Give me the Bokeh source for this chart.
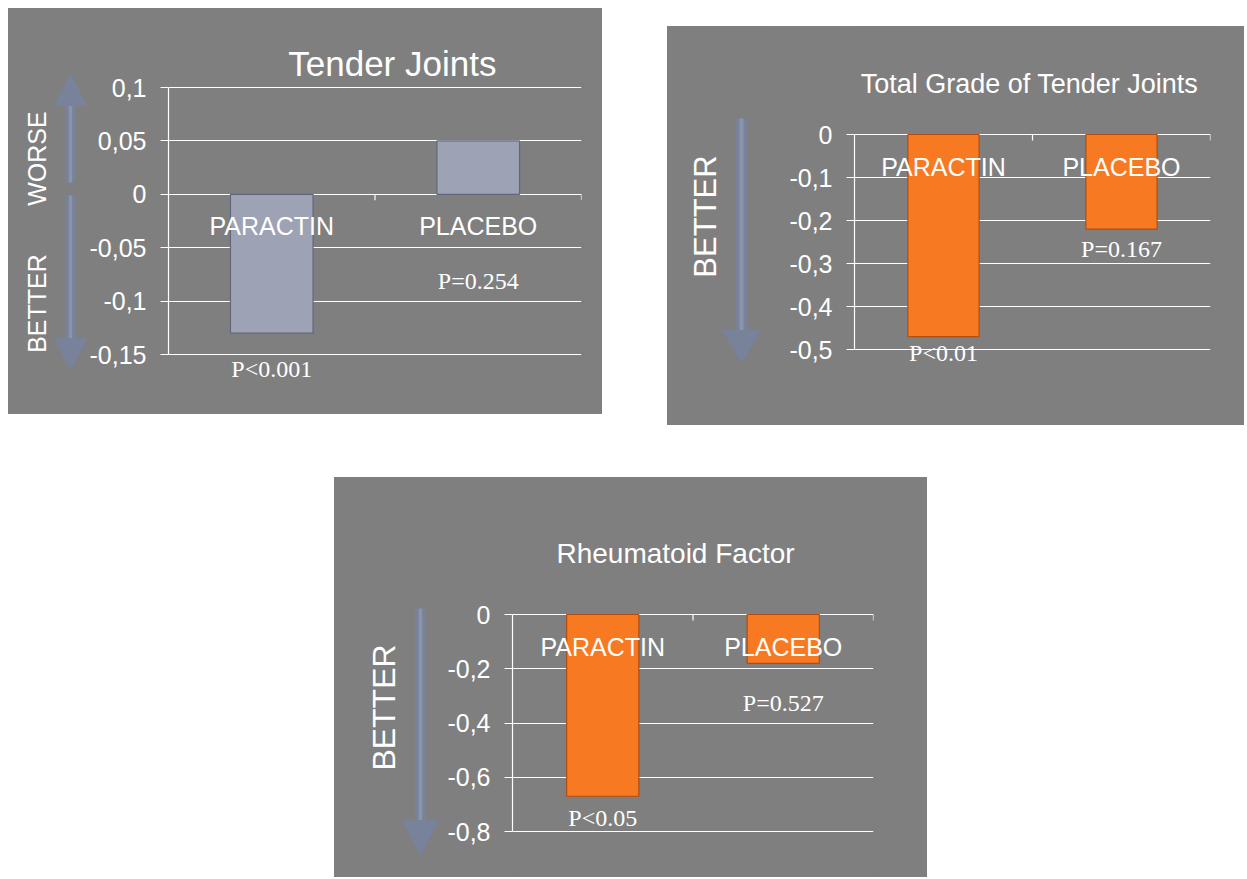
import math
from bokeh.plotting import figure
from bokeh.models import Range1d, FixedTicker, ColumnDataSource, Spacer
from bokeh.core.properties import value
from bokeh.layouts import row, column
from bokeh.embed import file_html
from bokeh.resources import INLINE

# ---------------- data ----------------
CATEGORIES = ["PARACTIN", "PLACEBO"]

TENDER_TITLE = "Tender Joints"
TENDER_VALUES = [-0.13, 0.05]
TENDER_P = ["P<0.001", "P=0.254"]
TENDER_TICKS = [0.1, 0.05, 0, -0.05, -0.1, -0.15]
TENDER_TICK_LABELS = ["0,1", "0,05", "0", "-0,05", "-0,1", "-0,15"]

GRADE_TITLE = "Total Grade of Tender Joints"
GRADE_VALUES = [-0.47, -0.22]
GRADE_P = ["P<0.01", "P=0.167"]
GRADE_TICKS = [0, -0.1, -0.2, -0.3, -0.4, -0.5]
GRADE_TICK_LABELS = ["0", "-0,1", "-0,2", "-0,3", "-0,4", "-0,5"]

RF_TITLE = "Rheumatoid Factor"
RF_VALUES = [-0.67, -0.18]
RF_P = ["P<0.05", "P=0.527"]
RF_TICKS = [0, -0.2, -0.4, -0.6, -0.8]
RF_TICK_LABELS = ["0", "-0,2", "-0,4", "-0,6", "-0,8"]

WORSE = "WORSE"
BETTER = "BETTER"

# ---------------- style ----------------
BG = "#7f7f7f"
WHITE = "#ffffff"
ARROW_COLOR = "#78829a"
ARROW_HI = "#8b94ab"
SANS = "Liberation Sans"
SERIF = "Liberation Serif"
PANEL_STYLE = {"outline": "1px solid #8e98ac", "outline-offset": "-1px",
               "background-color": BG}


def base_fig(W, H, **kw):
    p = figure(width=W, height=H, output_backend="svg", toolbar_location=None, **kw)
    p.title.visible = False
    p.background_fill_color = BG
    p.border_fill_color = BG
    p.outline_line_color = None
    p.styles = {"background-color": BG}
    return p


def arrow_fig(W, H, arrows, side_labels):
    """Decoration strip (arrows + rotated words), drawn in pixel coordinates."""
    p = base_fig(W, H, x_range=Range1d(0, W), y_range=Range1d(0, H),
                 x_axis_location=None, y_axis_location=None,
                 min_border=0, min_border_left=0, min_border_right=0,
                 min_border_top=0, min_border_bottom=0)
    p.grid.visible = False
    for (x, y0, y1, sw, hw, hl) in arrows:
        Y0, Y1 = H - y0, H - y1
        d = 1 if Y1 > Y0 else -1          # direction of the tip
        base = Y1 - d * hl
        p.quad(left=[x - sw / 2], right=[x + sw / 2],
               bottom=[min(Y0, base)], top=[max(Y0, base)],
               fill_color=ARROW_COLOR, line_color=None)
        p.quad(left=[x - sw / 6], right=[x + sw / 6],
               bottom=[min(Y0, base)], top=[max(Y0, base)],
               fill_color=ARROW_HI, line_color=None)
        p.patch(x=[x - hw / 2, x + hw / 2, x], y=[base, base, Y1],
                fill_color=ARROW_COLOR, line_color=ARROW_COLOR, line_width=1)
    for (txt, sx, sy, size) in side_labels:
        p.text(x=[sx], y=[H - sy], text=[txt], angle=math.pi / 2,
               text_align="center", text_baseline="middle",
               text_color=WHITE, text_font=value(SANS), text_font_size=value(size))
    return p


def main_fig(W, H, fl, fr, ft, fb, ticks, tick_labels, values, pvals, p_py,
             title, title_pos, title_size, bar_color, bar_line,
             tick_size="25px", cat_size="25px", p_size="24px", standoff=14):
    ymin, ymax = min(ticks), max(ticks)
    ppu = (fb - ft) / (ymax - ymin)          # pixels per data unit
    y_top = ymax + ft / ppu
    y_bot = ymin - (H - fb) / ppu
    n = len(values)

    def ydata(py):
        return y_top - py / ppu

    def xdata(px):
        return (px - fl) / (fr - fl) * n

    p = base_fig(W, H, x_range=Range1d(0, n), y_range=Range1d(y_bot, y_top),
                 x_axis_location=None,
                 min_border_left=fl, min_border_right=W - fr,
                 min_border_top=0, min_border_bottom=0)
    p.xgrid.visible = False

    ax = p.yaxis[0]
    ax.bounds = (ymin, ymax)
    ax.ticker = FixedTicker(ticks=ticks)
    ax.major_label_overrides = {t: l for t, l in zip(ticks, tick_labels)}
    ax.axis_line_color = WHITE
    ax.axis_line_width = 1.2
    ax.major_tick_line_color = WHITE
    ax.major_tick_line_width = 1.2
    ax.major_tick_out = 8
    ax.major_tick_in = 0
    ax.minor_tick_line_color = None
    ax.major_label_text_color = WHITE
    ax.major_label_text_font = SANS
    ax.major_label_text_font_size = tick_size
    ax.major_label_standoff = standoff

    p.ygrid.ticker = FixedTicker(ticks=ticks)
    p.ygrid.grid_line_color = WHITE
    p.ygrid.grid_line_width = 1.2

    xs = [i + 0.5 for i in range(n)]
    src = ColumnDataSource(dict(x=xs, top=values, zero=[0] * n))
    p.vbar(x="x", top="top", bottom="zero", width=0.4, source=src,
           fill_color=bar_color, line_color=bar_line, line_width=1.2)

    # small category-boundary ticks on the zero line
    bx = [float(i) for i in range(1, n + 1)]
    p.segment(x0=bx, x1=bx, y0=[0] * n, y1=[-6 / ppu] * n,
              line_color=WHITE, line_width=1.2)

    # category names just under the zero line
    p.text(x=xs, y=[-32 / ppu] * n, text=CATEGORIES,
           text_align="center", text_baseline="middle",
           text_color=WHITE, text_font=value(SANS), text_font_size=value(cat_size))

    # p-values
    p.text(x=xs, y=[ydata(py) for py in p_py], text=pvals,
           text_align="center", text_baseline="middle",
           text_color=WHITE, text_font=value(SERIF), text_font_size=value(p_size))

    # chart title
    p.text(x=[xdata(title_pos[0])], y=[ydata(title_pos[1])], text=[title],
           text_align="center", text_baseline="middle",
           text_color=WHITE, text_font=value(SANS), text_font_size=value(title_size))
    return p


# ---------- panel 1 : Tender Joints (594 x 406) ----------
A1 = 78
a1 = arrow_fig(A1, 406,
               arrows=[(62, 174, 65, 10, 32, 32), (62, 187, 362, 10, 32, 32)],
               side_labels=[(WORSE, 28, 150, "25px"), (BETTER, 28, 295, "25px")])
m1 = main_fig(594 - A1, 406, 156 - A1, 573 - A1, 79, 346,
              TENDER_TICKS, TENDER_TICK_LABELS, TENDER_VALUES, TENDER_P, [360, 272],
              TENDER_TITLE, (382 - A1, 55), "35px", "#9da2b4", "#62667a")

# ---------- panel 2 : Total Grade (577 x 399) ----------
A2 = 100
a2 = arrow_fig(A2, 399,
               arrows=[(74, 92, 336, 12, 38, 32)],
               side_labels=[(BETTER, 38, 190, "31px")])
m2 = main_fig(577 - A2, 399, 187 - A2, 543 - A2, 108, 323,
              GRADE_TICKS, GRADE_TICK_LABELS, GRADE_VALUES, GRADE_P, [326, 222],
              GRADE_TITLE, (362 - A2, 57), "27px", "#f77a22", "#b24d0e")

# ---------- panel 3 : Rheumatoid Factor (593 x 400) ----------
A3 = 106
a3 = arrow_fig(A3, 400,
               arrows=[(86, 131, 378, 11, 36, 35)],
               side_labels=[(BETTER, 49, 230, "32px")])
m3 = main_fig(593 - A3, 400, 178 - A3, 539 - A3, 137, 354,
              RF_TICKS, RF_TICK_LABELS, RF_VALUES, RF_P, [340, 225],
              RF_TITLE, (341 - A3, 76), "28px", "#f77a22", "#b24d0e")

panel1 = row(a1, m1, styles=PANEL_STYLE)
panel2 = row(a2, m2, styles=PANEL_STYLE)
panel3 = row(a3, m3, styles=PANEL_STYLE)

layout = column(
    Spacer(width=10, height=8),
    row(Spacer(width=8, height=10), panel1, Spacer(width=65, height=10),
        column(Spacer(width=10, height=18), panel2)),
    Spacer(width=10, height=52),
    row(Spacer(width=334, height=10), panel3),
)

open("out.html", "w").write(file_html(layout, INLINE))
